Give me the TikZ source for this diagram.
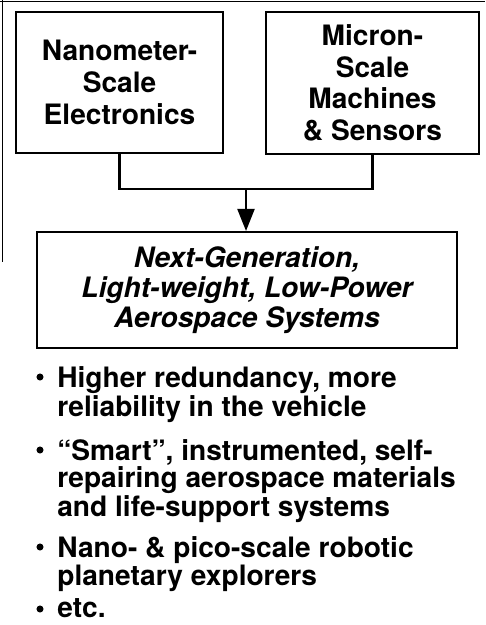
\documentclass[tikz,border=0pt]{standalone}
\usepackage{fontspec}
\setmainfont{TeX Gyre Heros}
\usetikzlibrary{arrows.meta,calc,positioning}

\begin{document}
\begin{tikzpicture}[x=0.02cm,y=-0.02cm,
        box/.style={draw,line width=1.2pt,inner sep=0pt,align=center,
        font=\fontsize{16}{18}\selectfont\bfseries},
        item/.style={anchor=north west,inner sep=0pt,align=left,
        font=\fontsize{16}{14.5}\selectfont\bfseries},
        link/.style={line width=1.2pt}]
        \useasboundingbox (0,0) rectangle (485,625);

        % Page frame
        \draw[thin] (0,1) -- (485,1) (2,0) -- (2,262);
        % Sources
        \node[box,minimum width=4.14cm,minimum height=2.82cm] (nano) at (119.5,82.5) {Nanometer-\\Scale\\Electronics};
        \node[box,minimum width=4.26cm,minimum height=2.84cm] (micron) at (372.5,83) {Micron-\\Scale\\Machines\\\& Sensors};
        % Target
        \node[box,minimum width=8.4cm,minimum height=2.32cm,
        font=\fontsize{16}{17}\selectfont\bfseries\itshape] (sys) at (247,290) {Next-Generation,\\Light-weight, Low-Power\\Aerospace Systems};

        \draw[link] (nano.south) -- ++(0,35) -| (micron.south) coordinate[pos=0.25](junc);
        \draw[link,-{Triangle[length=0.44cm,width=0.34cm]}] (junc) -- (junc|-sys.north);

        % Bullet list
        \node[item] (i1) at (57,366) {Higher redundancy, more\\reliability in the vehicle};
        \node[item] (i2) at (57,439) {“Smart”, instrumented, self-\\repairing aerospace materials\\and life-support systems};
        \node[item] (i3) at (57,536) {Nano- \& pico-scale robotic\\planetary explorers};
        \node[item] (i4) at (57,598) {etc.};
        \foreach \n in {i1,i2,i3,i4}
          \fill ([shift={(-17,11)}]\n.north west) circle[radius=2pt];

    \end{tikzpicture}
\end{document}
